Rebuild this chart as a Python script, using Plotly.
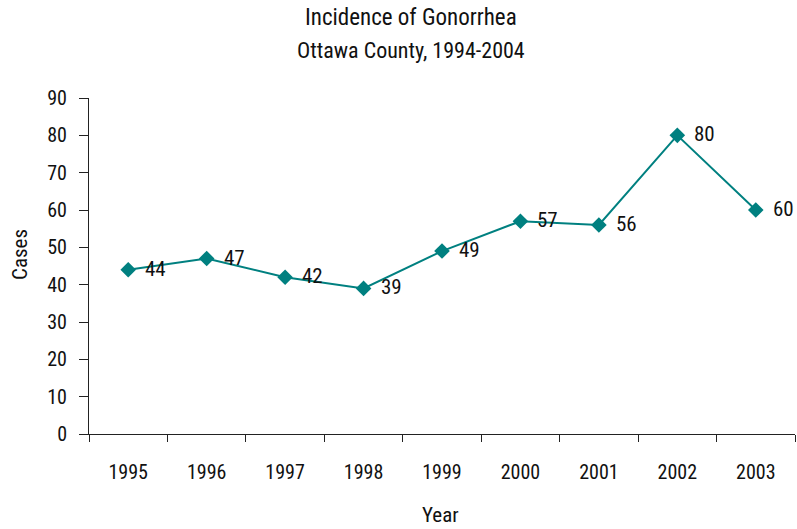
import plotly.graph_objects as go

years = ["1995", "1996", "1997", "1998", "1999", "2000", "2001", "2002", "2003"]
cases = [44, 47, 42, 39, 49, 57, 56, 80, 60]
y_ticks = [0, 10, 20, 30, 40, 50, 60, 70, 80, 90]

FONT = "Liberation Sans Narrow, Arial Narrow, Roboto Condensed, Liberation Sans, sans-serif"
TEAL = "#008080"
W, H = 797, 529
ML, MR, MT, MB = 89, 2, 98, 95
plot_w = W - ML - MR
plot_h = H - MT - MB

def px_x(x):
    return (x - ML) / plot_w

def px_y(y):
    return (H - MB - y) / plot_h

fig = go.Figure()
fig.add_trace(go.Scatter(
    x=years, y=cases, mode="lines+markers",
    line=dict(color=TEAL, width=2),
    marker=dict(symbol="diamond", size=12, color=TEAL),
    cliponaxis=False,
    showlegend=False,
))

annotations = [
    dict(text="Incidence of Gonorrhea", x=px_x(411), y=px_y(18), xref="paper", yref="paper",
         showarrow=False, yanchor="middle", font=dict(size=23)),
    dict(text="Ottawa County, 1994-2004", x=px_x(411), y=px_y(50), xref="paper", yref="paper",
         showarrow=False, yanchor="middle", font=dict(size=22)),
    dict(text="Cases", x=px_x(20), y=px_y(255), xref="paper", yref="paper",
         showarrow=False, textangle=-90, xanchor="center", yanchor="middle", font=dict(size=21)),
    dict(text="Year", x=px_x(440), y=px_y(515), xref="paper", yref="paper",
         showarrow=False, xanchor="center", yanchor="middle", font=dict(size=21)),
]
for i, v in enumerate(cases):
    annotations.append(dict(
        text=str(v), x=i, y=v, xref="x", yref="y", showarrow=False,
        xanchor="left", yanchor="middle", xshift=15, yshift=1,
        font=dict(size=21, color="#111111"),
    ))

fig.update_layout(
    width=W, height=H,
    margin=dict(l=ML, r=MR, t=MT, b=MB),
    paper_bgcolor="white", plot_bgcolor="white",
    font=dict(family=FONT, size=20, color="#111111"),
    annotations=annotations,
)

fig.update_xaxes(
    type="category", range=[-0.5, 8.5], automargin=False,
    showline=True, linecolor="#222222", linewidth=1,
    ticks="outside", tickson="boundaries", ticklen=7, tickcolor="#222222",
    ticklabelstandoff=20,
    showgrid=False, zeroline=False,
    tickfont=dict(size=20),
)
fig.update_yaxes(
    range=[0, 90], tickvals=y_ticks, automargin=False,
    showline=True, linecolor="#222222", linewidth=1,
    ticks="outside", ticklen=9, tickcolor="#222222",
    ticklabelstandoff=8,
    showgrid=False, zeroline=False,
    tickfont=dict(size=20),
)

fig.write_html(
    "out.html",
    config={"displayModeBar": False},
    post_script="document.body.style.margin='0';document.body.style.overflow='hidden';",
)
